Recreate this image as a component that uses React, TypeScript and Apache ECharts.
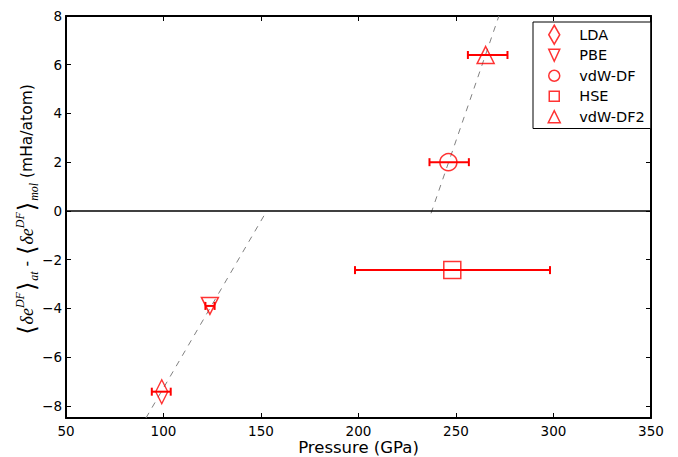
import React, { useEffect, useRef } from 'react';
import * as echarts from 'echarts';

// ---- data ----
const methods = ['LDA', 'PBE', 'vdW-DF', 'HSE', 'vdW-DF2'];
const pressure = [99.1, 123.8, 246.1, 248.1, 265.2];
const energy = [-7.42, -3.9, 2.0, -2.43, 6.4];
const pressureLow = [94.0, 121.5, 236.4, 198.2, 256.1];
const pressureHigh = [103.7, 126.2, 256.6, 298.2, 276.4];
const fitLowP = [91, 151.5];
const fitLowE = [-8.5, -0.2];
const fitHighP = [237.2, 272];
const fitHighE = [-0.1, 8];
const xTicks = [50, 100, 150, 200, 250, 300, 350];
const yTicks = [-8, -6, -4, -2, 0, 2, 4, 6, 8];

// ---- styles ----
const RED = '#ff0000';
const FONT = 'DejaVu Sans';
const markerSymbols = [
  'diamond',
  'path://M0,0 L2,0 L1,2 Z',
  'circle',
  'rect',
  'triangle',
];
const markerSizes: any[] = [[12, 24], [17, 17], [17, 17], [17, 17], [17, 17]];
const FRAME = 'M0,0 M19,19 ';
const legendIcons = [
  'path://' + FRAME + 'M9.5,0 L15,9.5 L9.5,19 L4,9.5 Z',
  'path://' + FRAME + 'M4,3.5 L15,3.5 L9.5,15.5 Z',
  'path://' + FRAME + 'M4,9.5 A5.5,5.5 0 1 1 15,9.5 A5.5,5.5 0 1 1 4,9.5 Z',
  'path://' + FRAME + 'M4.5,4.5 L14.5,4.5 L14.5,14.5 L4.5,14.5 Z',
  'path://' + FRAME + 'M3.5,15.5 L15.5,15.5 L9.5,3.5 Z',
];

const fmtY = (v: number) => (v < 0 ? '\u2212' + Math.abs(v) : String(v));

export default function App() {
  const ref = useRef<HTMLDivElement>(null);
  useEffect(() => {
    if (!ref.current) return;
    const chart = echarts.init(ref.current, undefined, { renderer: 'svg' });
    const hollow = { color: 'rgba(0,0,0,0)', borderColor: RED, borderWidth: 1.5 };
    const axisCommon = {
      type: 'value' as const,
      axisLine: { show: true, onZero: false, lineStyle: { color: '#000', width: 2 } },
      axisTick: { show: true, inside: true, length: 5, lineStyle: { color: '#000', width: 1 } },
      splitLine: { show: false },
    };
    const errData = methods.map((_, i) => [pressureLow[i], pressureHigh[i], energy[i]]);
    const option: any = {
      animation: false,
      grid: { left: 66, right: 27, top: 16, bottom: 39, containLabel: false, outerBoundsMode: 'none' },
      xAxis: [
        {
          ...axisCommon,
          position: 'bottom',
          min: xTicks[0],
          max: xTicks[xTicks.length - 1],
          interval: 50,
          axisLabel: { color: '#000', fontSize: 13.5, fontFamily: FONT, margin: 6 },
          name: 'Pressure (GPa)',
          nameLocation: 'middle',
          nameGap: 21,
          nameMoveOverlap: false,
          nameTextStyle: { color: '#000', fontSize: 16.5, fontFamily: FONT },
        },
        {
          ...axisCommon,
          position: 'top',
          min: xTicks[0],
          max: xTicks[xTicks.length - 1],
          interval: 50,
          axisLabel: { show: false },
        },
      ],
      yAxis: [
        {
          ...axisCommon,
          position: 'left',
          min: -8.5,
          max: 8,
          axisTick: { ...axisCommon.axisTick, customValues: yTicks },
          axisLabel: {
            color: '#000', fontSize: 13.5, fontFamily: FONT, margin: 4,
            customValues: yTicks, formatter: fmtY,
          },
        },
        {
          ...axisCommon,
          position: 'right',
          min: -8.5,
          max: 8,
          axisTick: { ...axisCommon.axisTick, customValues: yTicks },
          axisLabel: { show: false, customValues: yTicks },
        },
      ],
      legend: {
        orient: 'vertical',
        left: 533,
        top: 22,
        padding: [2.5, 6, 1.5, 11],
        itemWidth: 40,
        itemHeight: 19,
        itemGap: 0,
        backgroundColor: '#fff',
        borderColor: '#000',
        borderWidth: 1,
        borderRadius: 0,
        selectedMode: false,
        textStyle: { color: '#000', fontSize: 14.5, fontFamily: FONT, lineHeight: 19 },
        data: methods.map((m, i) => ({ name: m, icon: legendIcons[i], itemStyle: hollow })),
        z: 20,
      },
      graphic: [
        {
          type: 'text',
          x: 27,
          y: 210,
          rotation: Math.PI / 2,
          style: {
            text:
              '{br|\u27E8}{de|\u03B4e}{sup|DF}{br|\u27E9}{sub|at}{tx| - }' +
              '{br|\u27E8}{de|\u03B4e}{sup|DF}{br|\u27E9}{sub|mol}{tx| (mHa/atom)}',
            align: 'center',
            verticalAlign: 'middle',
            fill: '#000',
            rich: {
              br: { fontSize: 24, fontFamily: 'DejaVu Sans', fill: '#000', lineHeight: 26, padding: [0, 1, 0, 1] },
              de: { fontSize: 18, fontFamily: 'Liberation Serif', fontStyle: 'italic', fill: '#000', lineHeight: 26 },
              sup: { fontSize: 12, fontFamily: 'Liberation Serif', fontStyle: 'italic', fill: '#000', lineHeight: 14, verticalAlign: 'top' },
              sub: { fontSize: 12, fontFamily: 'Liberation Serif', fontStyle: 'italic', fill: '#000', lineHeight: 12, verticalAlign: 'bottom' },
              tx: { fontSize: 15.5, fontFamily: FONT, fill: '#000', lineHeight: 26 },
            },
          },
        },
      ],
      series: [
        {
          type: 'line',
          name: 'fitLow',
          data: fitLowP.map((p, i) => [p, fitLowE[i]]),
          symbol: 'none',
          lineStyle: { color: '#808080', width: 1, type: [6, 6] },
          z: 1,
          markLine: {
            silent: true,
            symbol: ['none', 'none'],
            label: { show: false },
            lineStyle: { color: '#000', width: 1.5, type: 'solid' },
            data: [{ yAxis: 0 }],
          },
        },
        {
          type: 'line',
          name: 'fitHigh',
          data: fitHighP.map((p, i) => [p, fitHighE[i]]),
          symbol: 'none',
          lineStyle: { color: '#808080', width: 1, type: [6, 6] },
          z: 1,
        },
        {
          type: 'custom',
          name: 'errors',
          coordinateSystem: 'cartesian2d',
          data: errData,
          encode: { x: [0, 1], y: 2 },
          z: 3,
          renderItem: (params: any, api: any) => {
            const y = api.value(2);
            const p1 = api.coord([api.value(0), y]);
            const p2 = api.coord([api.value(1), y]);
            const cap = 4;
            const style = { stroke: RED, lineWidth: 2, fill: 'none' };
            return {
              type: 'group',
              children: [
                { type: 'line', shape: { x1: p1[0], y1: p1[1], x2: p2[0], y2: p2[1] }, style },
                { type: 'line', shape: { x1: p1[0], y1: p1[1] - cap, x2: p1[0], y2: p1[1] + cap }, style },
                { type: 'line', shape: { x1: p2[0], y1: p2[1] - cap, x2: p2[0], y2: p2[1] + cap }, style },
              ],
            };
          },
        },
        ...methods.map((m, i) => ({
          type: 'scatter',
          name: m,
          data: [[pressure[i], energy[i]]],
          symbol: markerSymbols[i],
          symbolSize: markerSizes[i],
          symbolKeepAspect: false,
          itemStyle: hollow,
          z: 4,
        })),
      ],
    };
    chart.setOption(option);
    return () => chart.dispose();
  }, []);
  return (
    <div
      ref={ref}
      style={{ position: 'fixed', left: 0, top: 0, width: 678, height: 457, background: '#fff' }}
    />
  );
}
